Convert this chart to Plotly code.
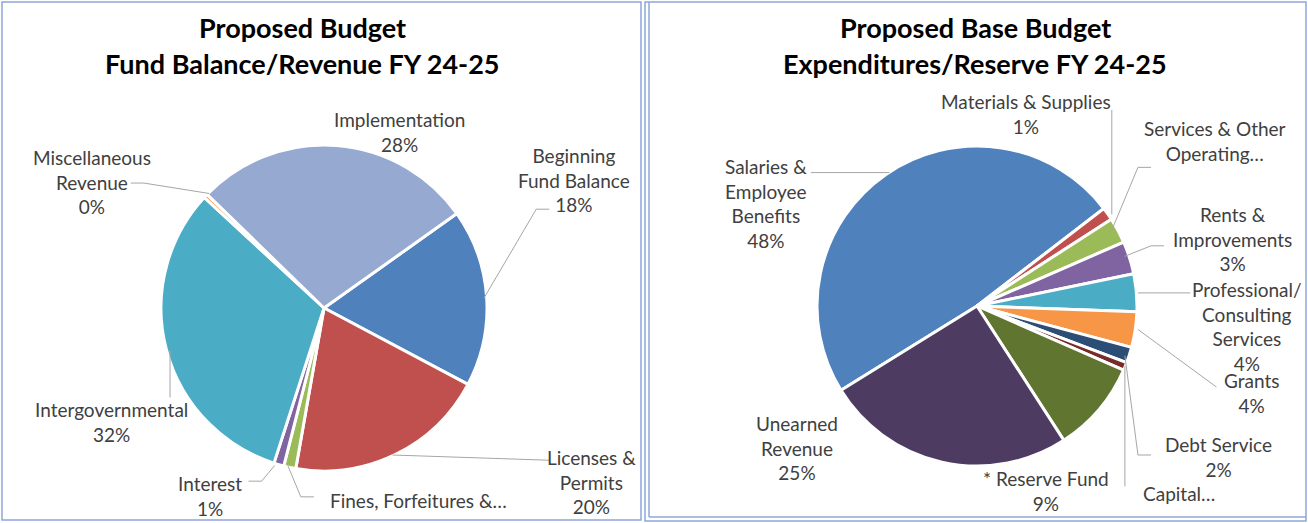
import math
import plotly.graph_objects as go

W, H = 1308, 523

# ---------------- data: revenue (left chart) ----------------
rev_labels = ["Beginning Fund Balance", "Licenses & Permits", "Fines, Forfeitures & Penalties",
              "Interest", "Intergovernmental", "Miscellaneous Revenue", "Implementation"]
rev_values = [17.6, 20.0, 1.2, 1.0, 31.9, 0.4, 27.9]
rev_display = ["Beginning<br>Fund Balance", "Licenses &<br>Permits", "Fines, Forfeitures &…",
               "Interest", "Intergovernmental", "Miscellaneous<br>Revenue", "Implementation"]
rev_show_pct = [True, True, False, True, True, True, True]

# ---------------- data: expenditures (right chart) ----------------
exp_labels = ["Salaries & Employee Benefits", "Materials & Supplies", "Services & Other Operating Expenses",
              "Rents & Improvements", "Professional/ Consulting Services", "Grants", "Debt Service",
              "Capital Outlay", "* Reserve Fund", "Unearned Revenue"]
exp_values = [48.4, 1.3, 2.6, 3.3, 3.8, 3.6, 1.6, 0.8, 9.3, 25.3]
exp_display = ["Salaries &<br>Employee<br>Benefits", "Materials & Supplies", "Services & Other<br>Operating…",
               "Rents &<br>Improvements", "Professional/<br>Consulting<br>Services", "Grants", "Debt Service",
               "Capital…", "* Reserve Fund", "Unearned<br>Revenue"]
exp_show_pct = [True, True, False, True, True, True, True, False, True, True]

# ---------------- styles / layout ----------------
rev_colors = ["#4F81BD", "#C0504D", "#9BBB59", "#8064A2", "#4BACC6", "#F79646", "#95A9D1"]
exp_colors = ["#4F81BD", "#C0504D", "#9BBB59", "#8064A2", "#4BACC6", "#F79646",
              "#2C4D75", "#772C2A", "#5F7530", "#4D3B62"]

FONT = "Lato"
LABEL_SIZE = 19
TITLE_SIZE = 27
LABEL_COLOR = "#404040"
LEADER_COLOR = "#A6A6A6"
BOX_COLOR = "#8CA8D8"

left_geo = dict(cx=324, cy=308, r=163, rotation=54.6)
right_geo = dict(cx=977, cy=306, r=160, rotation=238.2)

# label block centres (px) and leader elbows (px)
rev_label_pos = [(574, 180), (591, 482), (418, 500), (210, 496), (111, 422), (92, 182), (399, 132)]
rev_leaders = [[(542, 207), (553, 207)], [(546, 459)], [(305, 499), (316, 499)],
               [(257, 483), (245, 483)], [(166, 400)], [(150, 182), (136, 182)], []]
exp_label_pos = [(766, 203), (1026, 114), (1215, 141), (1232, 239), (1247, 326), (1251, 393),
                 (1218, 457), (1179, 493), (1046, 491), (797, 448)]
exp_leaders = [[(812, 172)], [(1112, 112)], [(1139, 168), (1149, 168)], [(1150, 247), (1160, 247)],
               [(1189, 293)], [(1210, 385), (1221, 385)], [(1144, 457), (1153, 457)], [(1127, 488)],
               [], []]


def px(x, y):
    return x / W, 1 - y / H


fig = go.Figure()
annotations = []
shapes = []


def add_pie(labels, values, colors, geo, display, show_pct, label_pos, leaders, name):
    cx, cy, r = geo["cx"], geo["cy"], geo["r"]
    fig.add_trace(go.Pie(
        labels=labels, values=values, name=name,
        marker=dict(colors=colors, line=dict(color="white", width=3)),
        sort=False, direction="clockwise", rotation=geo["rotation"],
        textinfo="none", showlegend=False, hole=0,
        domain=dict(x=[(cx - r) / W, (cx + r) / W], y=[1 - (cy + r) / H, 1 - (cy - r) / H]),
    ))
    total = sum(values)
    ang = geo["rotation"]
    for i, v in enumerate(values):
        span = v / total * 360.0
        mid = math.radians(ang + span / 2)
        ang += span
        sx, sy = cx + r * math.sin(mid), cy - r * math.cos(mid)
        txt = display[i]
        if show_pct[i]:
            txt += "<br>%d%%" % round(v / total * 100)
        lx, ly = label_pos[i]
        ax, ay = px(lx, ly)
        annotations.append(dict(x=ax, y=ay, xref="paper", yref="paper", text=txt, showarrow=False,
                                xanchor="center", yanchor="middle", align="center",
                                font=dict(family=FONT, size=LABEL_SIZE, color=LABEL_COLOR)))
        pts = [(sx, sy)] + leaders[i]
        if len(pts) > 1:
            path = "M " + " L ".join("%.2f,%.2f" % px(x, y) for x, y in pts)
            shapes.append(dict(type="path", path=path, xref="paper", yref="paper",
                               line=dict(color=LEADER_COLOR, width=1)))


add_pie(rev_labels, rev_values, rev_colors, left_geo, rev_display, rev_show_pct,
        rev_label_pos, rev_leaders, "Revenue")
add_pie(exp_labels, exp_values, exp_colors, right_geo, exp_display, exp_show_pct,
        exp_label_pos, exp_leaders, "Expenditures")

# titles
titles = [("Proposed Budget", 302, 28), ("Fund Balance/Revenue FY 24-25", 302, 63),
          ("Proposed Base Budget", 975, 28), ("Expenditures/Reserve FY 24-25", 975, 63)]
for t, x, y in titles:
    ax, ay = px(x, y)
    annotations.append(dict(x=ax, y=ay, xref="paper", yref="paper", text="<b>%s</b>" % t,
                            showarrow=False, xanchor="center", yanchor="middle",
                            font=dict(family=FONT, size=TITLE_SIZE, color="#000000")))


def rect(x0, y0, x1, y1, w=1.5):
    a = px(x0, y0)
    b = px(x1, y1)
    shapes.append(dict(type="rect", xref="paper", yref="paper", x0=a[0], y0=b[1], x1=b[0], y1=a[1],
                       line=dict(color=BOX_COLOR, width=w), fillcolor="rgba(0,0,0,0)"))


def line(x0, y0, x1, y1, w=1.5):
    a = px(x0, y0)
    b = px(x1, y1)
    shapes.append(dict(type="line", xref="paper", yref="paper", x0=a[0], y0=a[1], x1=b[0], y1=b[1],
                       line=dict(color=BOX_COLOR, width=w)))


rect(2, 2, 641, 520)
rect(645, 2, 1306, 521)
line(649, 2, 649, 517)
line(649, 517, 1306, 517)

fig.update_layout(width=W, height=H, autosize=False, margin=dict(l=0, r=0, t=0, b=0),
                  paper_bgcolor="white", plot_bgcolor="white",
                  annotations=annotations, shapes=shapes)

fig.write_html("out.html", config={"displayModeBar": False},
               post_script="document.body.style.margin='0';")
